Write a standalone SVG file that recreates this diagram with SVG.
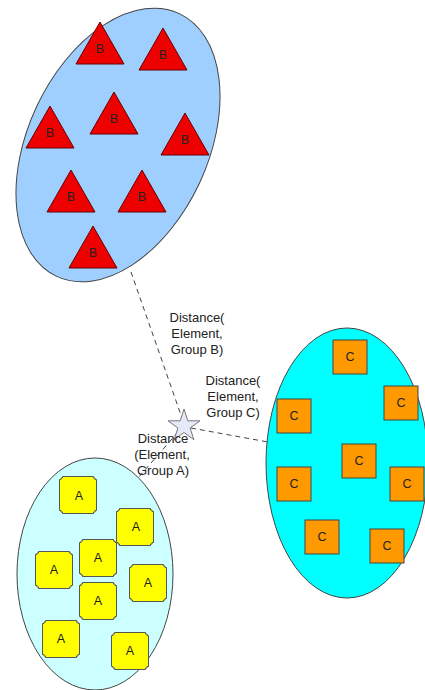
<svg xmlns="http://www.w3.org/2000/svg" xmlns:xlink="http://www.w3.org/1999/xlink" width="425" height="690" viewBox="0 0 425 690">
<style>
.lbl{font-family:"Liberation Sans",Arial,sans-serif;font-size:12.5px;fill:#222;text-anchor:middle}
.cap{font-family:"Liberation Sans",Arial,sans-serif;font-size:13px;fill:#222;text-anchor:middle}
.tri{fill:#ee0000;stroke:#660000;stroke-width:1}
.sqc{fill:#ff9900;stroke:#444;stroke-width:1}
.sqa{fill:#ffff00;stroke:#555;stroke-width:1}
.conn{stroke:#444;stroke-width:1;stroke-dasharray:5,4;fill:none}
</style>
<defs>
<path id="triB" d="M0,0 L24,42 L-24,42 Z"/>
<path id="blkA" d="M-15.5,-18.5 H15.5 V-17 H17 V-15.5 H18.5 V15.5 H17 V17 H15.5 V18.5 H-15.5 V17 H-17 V15.5 H-18.5 V-15.5 H-17 V-17 H-15.5 Z"/>
</defs>
<rect width="425" height="690" fill="#ffffff"/>
<g id="groupB">
<ellipse cx="118" cy="145" rx="90" ry="145" transform="rotate(25 118 145)" fill="#9fcfff" stroke="#444" stroke-width="1"/>
</g>
<g id="groupC">
<ellipse cx="347" cy="463" rx="81" ry="135" fill="#00ffff" stroke="#444" stroke-width="1"/>
</g>
<g id="groupA">
<ellipse cx="95" cy="574" rx="78" ry="116" fill="#ccffff" stroke="#444" stroke-width="1"/>
</g>
<g id="connectors">
<line class="conn" x1="131" y1="272" x2="182" y2="418"/>
<line class="conn" x1="191" y1="428" x2="268" y2="442"/>
<line class="conn" x1="178" y1="432" x2="138" y2="478"/>
</g>
<g id="b1"><use href="#triB" class="tri" x="100" y="22"/><text class="lbl" x="100" y="53">B</text></g>
<g id="b2"><use href="#triB" class="tri" x="163" y="28"/><text class="lbl" x="163" y="59">B</text></g>
<g id="b3"><use href="#triB" class="tri" x="114" y="92"/><text class="lbl" x="114" y="123">B</text></g>
<g id="b4"><use href="#triB" class="tri" x="50" y="106"/><text class="lbl" x="50" y="137">B</text></g>
<g id="b5"><use href="#triB" class="tri" x="185" y="113"/><text class="lbl" x="185" y="144">B</text></g>
<g id="b6"><use href="#triB" class="tri" x="71" y="170"/><text class="lbl" x="71" y="201">B</text></g>
<g id="b7"><use href="#triB" class="tri" x="142" y="170"/><text class="lbl" x="142" y="201">B</text></g>
<g id="b8"><use href="#triB" class="tri" x="93" y="226"/><text class="lbl" x="93" y="257">B</text></g>
<g id="c1"><rect class="sqc" x="333" y="340" width="34" height="34"/><text class="lbl" x="350" y="361">C</text></g>
<g id="c2"><rect class="sqc" x="384" y="386" width="34" height="34"/><text class="lbl" x="401" y="407">C</text></g>
<g id="c3"><rect class="sqc" x="277" y="399" width="34" height="34"/><text class="lbl" x="294" y="420">C</text></g>
<g id="c4"><rect class="sqc" x="342" y="444" width="34" height="34"/><text class="lbl" x="359" y="465">C</text></g>
<g id="c5"><rect class="sqc" x="277" y="467" width="34" height="34"/><text class="lbl" x="294" y="488">C</text></g>
<g id="c6"><rect class="sqc" x="390" y="467" width="34" height="34"/><text class="lbl" x="407" y="488">C</text></g>
<g id="c7"><rect class="sqc" x="305" y="520" width="34" height="34"/><text class="lbl" x="322" y="541">C</text></g>
<g id="c8"><rect class="sqc" x="370" y="529" width="34" height="34"/><text class="lbl" x="387" y="550">C</text></g>
<g id="a1"><use href="#blkA" class="sqa" x="78" y="495"/><text class="lbl" x="79" y="500">A</text></g>
<g id="a2"><use href="#blkA" class="sqa" x="135" y="527"/><text class="lbl" x="136" y="531">A</text></g>
<g id="a3"><use href="#blkA" class="sqa" x="98" y="558"/><text class="lbl" x="98" y="562">A</text></g>
<g id="a4"><use href="#blkA" class="sqa" x="54" y="570"/><text class="lbl" x="54" y="574">A</text></g>
<g id="a5"><use href="#blkA" class="sqa" x="148" y="583"/><text class="lbl" x="148" y="587">A</text></g>
<g id="a6"><use href="#blkA" class="sqa" x="98" y="601"/><text class="lbl" x="98" y="605">A</text></g>
<g id="a7"><use href="#blkA" class="sqa" x="61" y="639"/><text class="lbl" x="61" y="643">A</text></g>
<g id="a8"><use href="#blkA" class="sqa" x="130" y="651"/><text class="lbl" x="130" y="655">A</text></g>
<g id="element">
<polygon points="184,409 187.8,420.8 200,420.8 190.1,428 193.9,439.7 184,432.5 174.1,439.7 177.9,428 168,420.8 180.2,420.8" fill="#e6eaf8" stroke="#777" stroke-width="1"/>
</g>
<g id="labels">
<text class="cap" x="197" y="322">Distance(</text>
<text class="cap" x="197" y="338">Element,</text>
<text class="cap" x="197" y="354">Group B)</text>
<text class="cap" x="233" y="385">Distance(</text>
<text class="cap" x="233" y="401">Element,</text>
<text class="cap" x="233" y="417">Group C)</text>
<text class="cap" x="163" y="443">Distance</text>
<text class="cap" x="162" y="459">(Element,</text>
<text class="cap" x="163" y="475">Group A)</text>
</g>
</svg>
